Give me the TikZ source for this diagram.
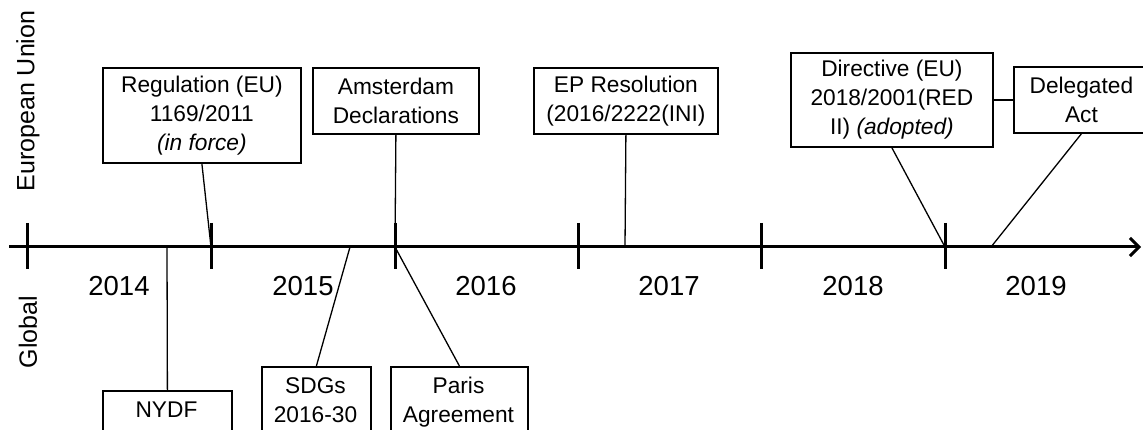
\documentclass[tikz,border=0pt]{standalone}
\usepackage{fontspec}
\setmainfont{Liberation Sans}
\usetikzlibrary{arrows.meta}
\begin{document}
\begin{tikzpicture}[x=1pt,y=-1pt,
  box/.style={draw, line width=1.8pt, inner sep=0pt, anchor=north west, align=center, font=\fontsize{22.7}{29}\selectfont},
  txt/.style={inner sep=0pt, align=center, font=\fontsize{22.7}{29}\selectfont},
  link/.style={line width=1.3pt},
  tickmark/.style={line width=3pt},
  axisline/.style={line width=3pt, -{Straight Barb[length=9pt,width=18pt]}},
  year/.style={font=\fontsize{27.5}{30}\selectfont, inner sep=0pt},
  side/.style={font=\fontsize{25}{28}\selectfont, rotate=90, inner sep=0pt}]
\useasboundingbox (0,0) rectangle (1143,430);

% axis
\coordinate (a0) at (9,247);
\coordinate (a1) at (1141,247);
\draw[axisline] (a0) -- (a1);
\foreach \x in {27,211,395,578,761,945}
  \draw[tickmark] (\x,223) -- (\x,269);

% years
\node[year] (y14) at (119,286) {2014};
\node[year] (y15) at (303,286) {2015};
\node[year] (y16) at (486,286) {2016};
\node[year] (y17) at (669,286) {2017};
\node[year] (y18) at (853,286) {2018};
\node[year] (y19) at (1036,286) {2019};

% side labels
\node[side] (eu) at (28,101) {European Union};
\node[side] (gl) at (28,332) {Global};

% EU boxes
\node[box, minimum width=198pt, minimum height=95pt] (reg) at (102,67) {Regulation (EU)\\1169/2011\\\textit{(in force)}};
\node[box, minimum width=166pt, minimum height=66pt] (ams) at (312,67) {Amsterdam\\Declarations};
\node[box, minimum width=184pt, minimum height=66pt] (ep) at (533,67) {EP Resolution\\(2016/2222(INI)};
\node[box, minimum width=202pt, minimum height=94pt] (dir) at (790,52) {Directive (EU)\\2018/2001(RED\\II) \textit{(adopted)}};
\node[box, minimum width=135pt, minimum height=66pt] (del) at (1013,66) {Delegated\\Act};

% Global boxes
\node[box, minimum width=129pt, minimum height=60pt] (nydf) at (102,390) {};
\node[txt, anchor=base] (nydft) at (166.5,417) {NYDF};
\node[box, minimum width=109pt, minimum height=84pt] (sdgs) at (261,366) {};
\node[txt, anchor=north] (sdgst) at (315.5,377) {SDGs\\2016-30};
\node[box, minimum width=137pt, minimum height=84pt] (paris) at (390,366) {};
\node[txt, anchor=north] (parist) at (458.5,377) {Paris\\Agreement};

% points on the axis
\coordinate (pReg) at (211,247);
\coordinate (pAms) at (395,247);
\coordinate (pEP) at (625,247);
\coordinate (pDir) at (945,247);
\coordinate (pDel) at (991,247);
\coordinate (pNYDF) at (167,247);
\coordinate (pSDG) at (350,247);

% connectors
\draw[link] (reg.south) -- (pReg);
\draw[link] (ams.south) -- (pAms);
\draw[link] (ep.south) -- (pEP);
\draw[link] (dir.south) -- (pDir);
\draw[link] (del.south) -- (pDel);
\draw[link] (dir.east) -- (del.west);
\draw[link] (nydf.north) -- (pNYDF);
\draw[link] (sdgs.north) -- (pSDG);
\draw[link] (paris.north) -- (pAms);
\end{tikzpicture}
\end{document}
